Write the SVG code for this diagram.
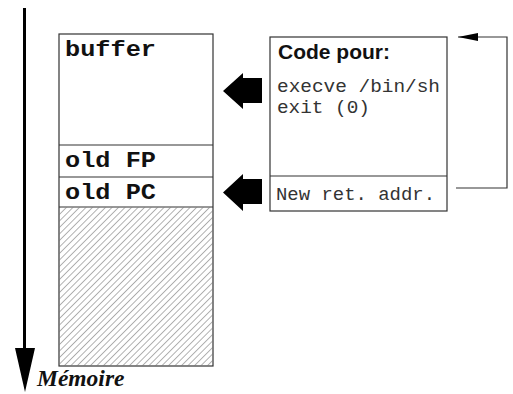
<svg xmlns="http://www.w3.org/2000/svg" width="513" height="394" viewBox="0 0 513 394">
<style>
.box{fill:#fff;stroke:#333;stroke-width:1.2}
.div{stroke:#333;stroke-width:1.2}
.mono-b{font-family:"Liberation Mono","Courier New",monospace;font-weight:bold;font-size:22px;fill:#111}
.mono{font-family:"Liberation Mono","Courier New",monospace;font-size:18px;fill:#333}
.sans-b{font-family:"Liberation Sans",Arial,sans-serif;font-weight:bold;font-size:21px;fill:#111}
.serif-bi{font-family:"Liberation Serif","Times New Roman",serif;font-weight:bold;font-style:italic;font-size:23.5px;fill:#111}
.thin{fill:none;stroke:#333;stroke-width:1.2}
.block{fill:#000}
</style>
<defs>
<pattern id="hatch" patternUnits="userSpaceOnUse" width="4.6" height="4.6" patternTransform="rotate(45)">
<line x1="0" y1="0" x2="0" y2="4.6" stroke="#555" stroke-width="0.9"/>
</pattern>
<marker id="tri" markerWidth="20" markerHeight="10" refX="20" refY="5" orient="auto" markerUnits="userSpaceOnUse">
<path d="M0,1 L20,5 L0,9 Z" fill="#000"/>
</marker>
</defs>
<rect width="513" height="394" fill="#fff"/>

<g id="memory-axis">
<line x1="24.5" y1="8" x2="24.5" y2="352" stroke="#000" stroke-width="3"/>
<polygon points="15,348 35,348 25,392" fill="#000"/>
<text class="serif-bi" x="37" y="386">Mémoire</text>
</g>

<g id="stack">
<rect class="box" x="59" y="34" width="154" height="332"/>
<rect x="59.6" y="207.6" width="152.8" height="157.8" fill="url(#hatch)"/>
<line class="div" x1="59" y1="145" x2="213" y2="145"/>
<line class="div" x1="59" y1="177" x2="213" y2="177"/>
<line class="div" x1="59" y1="207" x2="213" y2="207"/>
<text class="mono-b" x="65" y="56" textLength="91" lengthAdjust="spacingAndGlyphs">buffer</text>
<text class="mono-b" x="65" y="167" textLength="91" lengthAdjust="spacingAndGlyphs">old FP</text>
<text class="mono-b" x="65" y="199" textLength="91" lengthAdjust="spacingAndGlyphs">old PC</text>
</g>

<g id="code-box">
<rect class="box" x="270" y="37" width="177" height="174"/>
<line class="div" x1="270" y1="176" x2="447" y2="176"/>
<text class="sans-b" x="278" y="59">Code pour:</text>
<text class="mono" x="277" y="92" textLength="163" lengthAdjust="spacingAndGlyphs">execve /bin/sh</text>
<text class="mono" x="277" y="113" textLength="93" lengthAdjust="spacingAndGlyphs">exit (0)</text>
<text class="mono" x="276" y="200" textLength="159" lengthAdjust="spacingAndGlyphs">New ret. addr.</text>
</g>

<g id="connectors">
<polygon class="block" points="223,91 243,73 243,78 262,78 262,103 243,103 243,109"/>
<polygon class="block" points="223,192.5 243,174 243,179 262,179 262,204 243,204 243,211"/>
<polyline class="thin" points="456,188 507,188 507,37 458,37" marker-end="url(#tri)"/>
</g>
</svg>
